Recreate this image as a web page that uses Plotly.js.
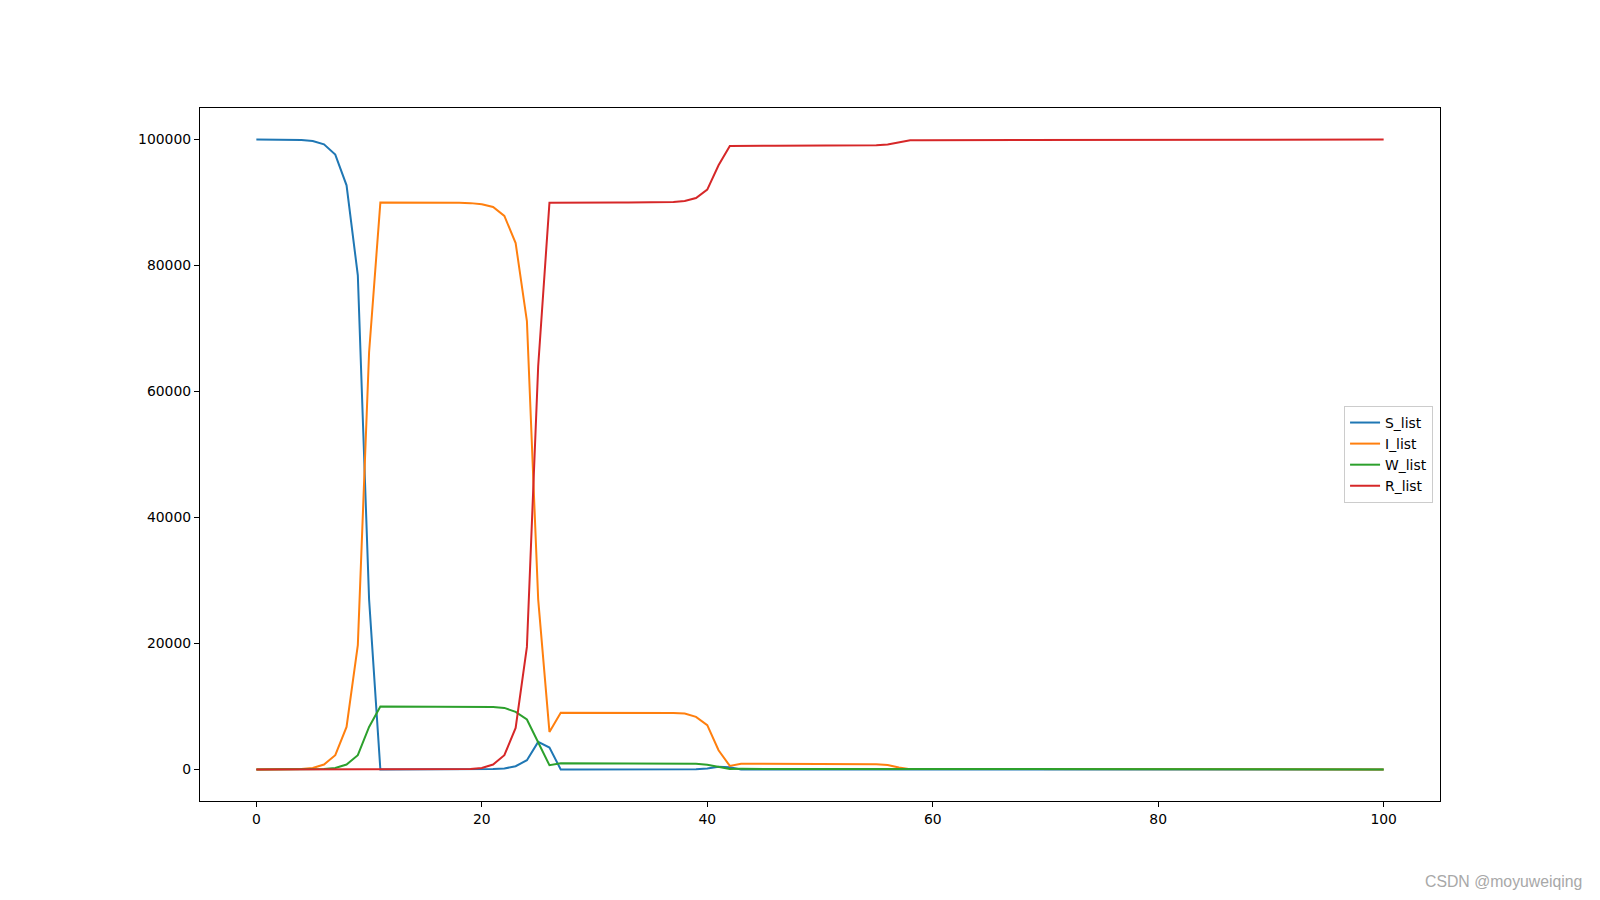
<!DOCTYPE html>
<html>
<head>
<meta charset="utf-8">
<script src="https://cdn.plot.ly/plotly-3.0.1.min.js"></script>
<style>
html, body { margin: 0; padding: 0; background: #ffffff; }
#chart { width: 1600px; height: 900px; }
</style>
</head>
<body>
<div id="chart"></div>
<script>
const steps = [
  0,1,2,3,4,5,6,7,8,9,10,11,12,13,14,15,16,17,18,19,
  20,21,22,23,24,25,26,27,28,29,30,31,32,33,34,35,36,37,38,39,
  40,41,42,43,44,45,46,47,48,49,50,51,52,53,54,55,56,57,58,59,
  60,61,62,63,64,65,66,67,68,69,70,71,72,73,74,75,76,77,78,79,
  80,81,82,83,84,85,86,87,88,89,90,91,92,93,94,95,96,97,98,99,100
];

const S_list = [
  100000,99998,99992,99975,99920,99760,99230,97600,92730,78450,
  27000,0,0,0,0,0,0,0,0,5,
  20,60,160,520,1480,4380,3490,0,0,0,
  0,0,0,0,0,0,0,0,15,52,
  148,438,349,0,0,0,0,0,0,0,
  0,0,0,0,2,15,44,35,0,0,
  0,0,0,0,0,0,0,0,0,0,
  0,0,0,0,0,0,0,0,0,0,
  0,0,0,0,0,0,0,0,0,0,
  0,0,0,0,0,0,0,0,0,0,
  0
];

const I_list = [
  0,3,8,25,80,250,790,2270,6760,19730,
  66240,89990,90000,90000,90000,90000,90000,89990,89970,89900,
  89710,89290,87860,83570,71190,27000,5970,8990,9000,9000,
  9000,9000,9000,9000,9000,8998,8990,8970,8900,8350,
  7030,3060,570,899,900,900,900,900,900,900,
  900,900,897,893,879,836,712,314,60,90,
  90,90,90,90,90,90,90,90,90,90,
  90,89,88,84,71,31,6,9,9,9,
  9,9,9,9,9,9,9,9,9,9,
  9,9,9,9,9,9,9,9,9,9,
  9
];

const W_list = [
  0,0,0,3,8,25,80,250,790,2270,
  6760,10000,10000,10000,10000,10000,10000,10000,10000,10000,
  9990,9920,9780,9140,7930,4290,680,1000,1000,1000,
  1000,1000,1000,1000,1000,1000,999,992,978,914,
  760,380,70,100,100,100,100,100,100,100,
  100,100,100,99,98,91,79,43,7,10,
  10,10,10,10,10,10,10,10,10,10,
  10,10,10,10,10,10,10,10,10,10,
  10,10,10,10,10,10,10,10,10,10,
  10,10,10,10,10,10,10,10,10,10,
  10
];

const R_list = [
  0,0,0,0,0,0,0,0,0,0,
  0,0,0,0,0,0,0,8,25,80,
  250,790,2270,6600,19460,64000,89980,90000,90000,90000,
  90000,90000,90000,90000,90003,90008,90025,90080,90240,90720,
  92050,95900,98960,99000,99000,99000,99000,99000,99000,99000,
  99000,99000,99003,99008,99024,99072,99205,99590,99896,99900,
  99900,99900,99900,99900,99900,99900,99900,99900,99900,99900,
  99901,99902,99907,99920,99959,99990,99990,99990,99990,99990,
  99990,99990,99990,99990,99990,99990,99990,99990,99990,99990,
  99990,99990,99990,99990,99990,99990,99990,99990,99990,99990,
  99990
];

const seriesNames = ['S_list', 'I_list', 'W_list', 'R_list'];
const seriesData = [S_list, I_list, W_list, R_list];
const seriesColors = ['#1f77b4', '#ff7f0e', '#2ca02c', '#d62728'];

const xTicks = [0, 20, 40, 60, 80, 100];
const yTicks = [0, 20000, 40000, 60000, 80000, 100000];

const traces = seriesNames.map((name, i) => ({
  x: steps,
  y: seriesData[i],
  name: name,
  type: 'scatter',
  mode: 'lines',
  line: { color: seriesColors[i], width: 2 }
}));

const font = { family: 'DejaVu Sans, sans-serif', size: 13.9, color: '#000000' };

const layout = {
  width: 1600,
  height: 900,
  paper_bgcolor: '#ffffff',
  plot_bgcolor: '#ffffff',
  margin: { l: 200, r: 160, t: 108, b: 99, pad: 0 },
  font: font,
  showlegend: true,
  xaxis: {
    range: [-5, 105],
    tickvals: xTicks,
    ticktext: xTicks.map(String),
    showgrid: false,
    zeroline: false,
    showline: true,
    mirror: true,
    linecolor: '#000000',
    linewidth: 1.1,
    ticks: 'outside',
    ticklen: 5,
    tickwidth: 1.1,
    tickcolor: '#000000',
    tickfont: font
  },
  yaxis: {
    range: [-5000, 105000],
    tickvals: yTicks,
    ticktext: yTicks.map(String),
    showgrid: false,
    zeroline: false,
    showline: true,
    mirror: true,
    linecolor: '#000000',
    linewidth: 1.1,
    ticks: 'outside',
    ticklen: 5,
    tickwidth: 1.1,
    tickcolor: '#000000',
    tickfont: font
  },
  legend: {
    x: 0.9944,
    xanchor: 'right',
    y: 0.5,
    yanchor: 'middle',
    bgcolor: 'rgba(255,255,255,0.8)',
    bordercolor: '#cccccc',
    borderwidth: 1,
    font: font,
    itemwidth: 30,
    tracegroupgap: 0
  },
  annotations: [{
    text: 'CSDN @moyuweiqing',
    xref: 'paper',
    yref: 'paper',
    x: 1.116,
    xanchor: 'right',
    y: -0.116,
    yanchor: 'middle',
    showarrow: false,
    font: { family: 'Liberation Sans, Arial, sans-serif', size: 15.8, color: '#a8a8a8' }
  }]
};

Plotly.newPlot('chart', traces, layout, { displayModeBar: false, staticPlot: true });
</script>
</body>
</html>
